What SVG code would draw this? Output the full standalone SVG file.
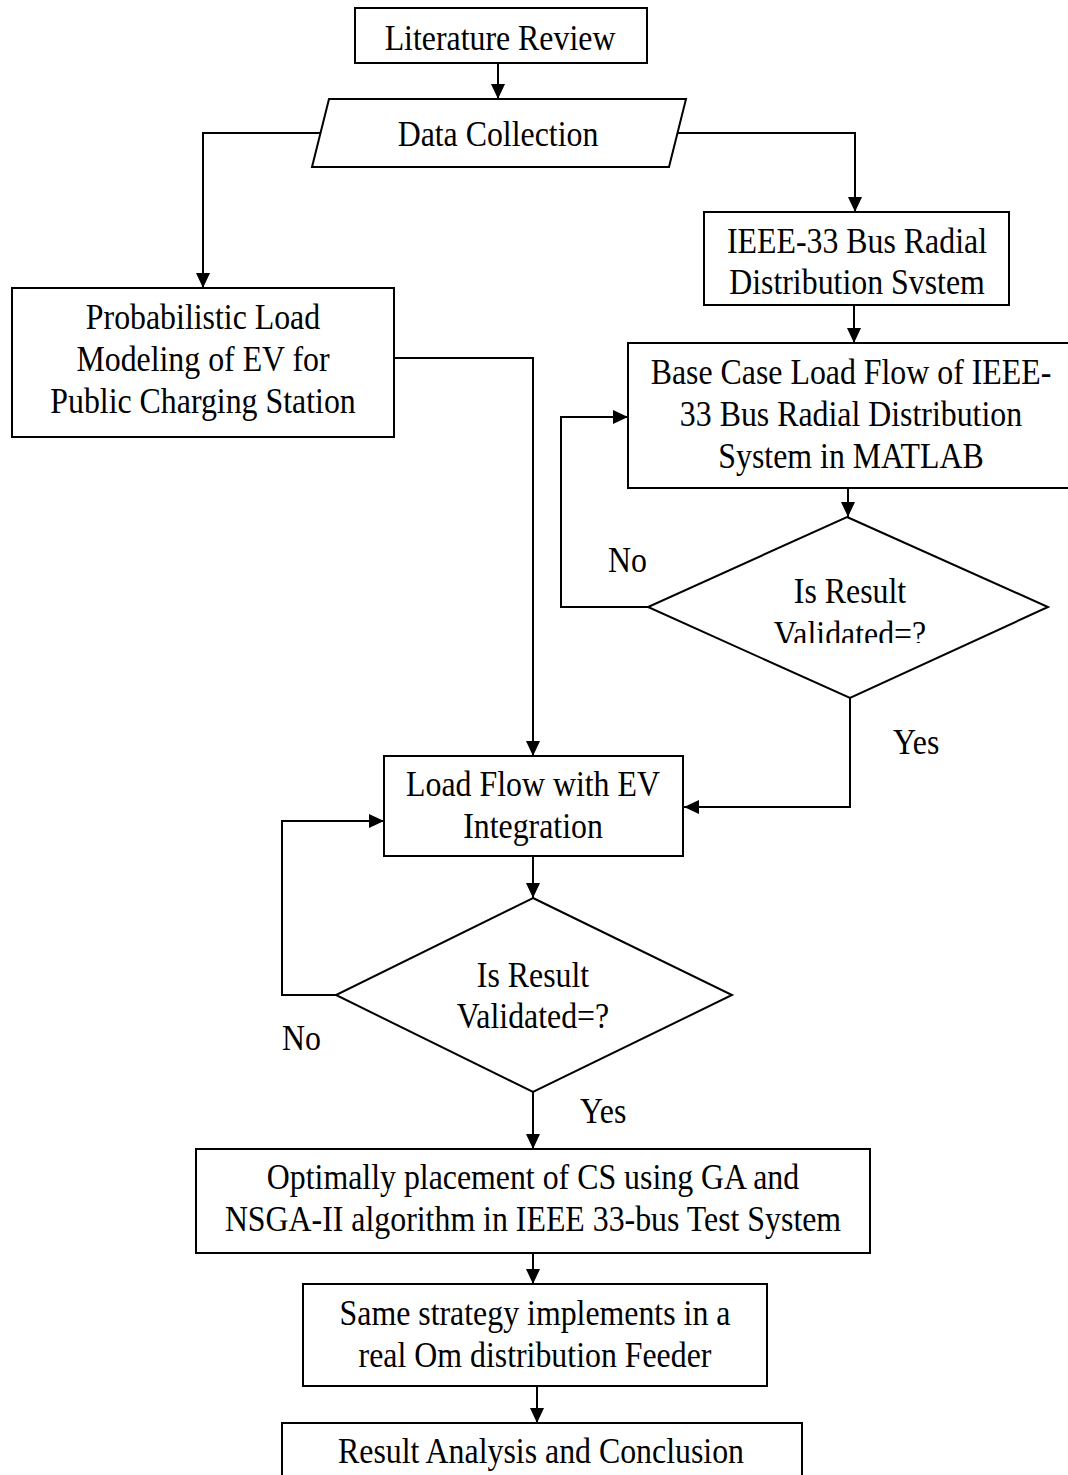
<svg xmlns="http://www.w3.org/2000/svg" width="1068" height="1475" viewBox="0 0 1068 1475">
  <style>
    .box { fill: #ffffff; stroke: #000000; stroke-width: 2; }
    .wire { fill: none; stroke: #000000; stroke-width: 2; }
    .lbl { font-family: "Liberation Serif", "Times New Roman", serif; font-size: 35px; fill: #000000; text-anchor: middle; }
    .tag { font-family: "Liberation Serif", "Times New Roman", serif; font-size: 35px; fill: #000000; }
  </style>
  <defs>
    <marker id="arrow" markerUnits="userSpaceOnUse" markerWidth="16" markerHeight="16" refX="15" refY="8" orient="auto">
      <path d="M0,1 L15,8 L0,15 z" fill="#000000"/>
    </marker>
    <clipPath id="clip-check1">
      <rect x="640" y="500" width="420" height="143"/>
    </clipPath>
  </defs>
  <rect width="1068" height="1475" fill="#ffffff"/>

  <!-- connectors -->
  <g id="connectors">
    <line class="wire" x1="498" y1="63" x2="498" y2="99" marker-end="url(#arrow)"/>
    <polyline class="wire" points="320,133 203,133 203,288" marker-end="url(#arrow)"/>
    <polyline class="wire" points="677,133 855,133 855,212" marker-end="url(#arrow)"/>
    <line class="wire" x1="854" y1="305" x2="854" y2="343" marker-end="url(#arrow)"/>
    <line class="wire" x1="848" y1="488" x2="848" y2="517" marker-end="url(#arrow)"/>
    <polyline class="wire" points="648,607 561,607 561,417 628,417" marker-end="url(#arrow)"/>
    <polyline class="wire" points="850,698 850,807 684,807" marker-end="url(#arrow)"/>
    <polyline class="wire" points="394,358 533,358 533,756" marker-end="url(#arrow)"/>
    <line class="wire" x1="533" y1="856" x2="533" y2="898" marker-end="url(#arrow)"/>
    <polyline class="wire" points="336,995 282,995 282,821 384,821" marker-end="url(#arrow)"/>
    <line class="wire" x1="533" y1="1092" x2="533" y2="1149" marker-end="url(#arrow)"/>
    <line class="wire" x1="533" y1="1253" x2="533" y2="1284" marker-end="url(#arrow)"/>
    <line class="wire" x1="537" y1="1386" x2="537" y2="1423" marker-end="url(#arrow)"/>
    <text class="tag" transform="translate(608 0) scale(0.91 1)" x="0" y="572">No</text>
    <text class="tag" transform="translate(893 0) scale(0.91 1)" x="0" y="754">Yes</text>
    <text class="tag" transform="translate(282 0) scale(0.91 1)" x="0" y="1050">No</text>
    <text class="tag" transform="translate(580 0) scale(0.91 1)" x="0" y="1123">Yes</text>
  </g>

  <g id="literature-review">
    <rect class="box" x="355" y="8" width="292" height="55"/>
    <text class="lbl" transform="translate(500 0) scale(0.91 1)" x="0" y="50">Literature Review</text>
  </g>

  <g id="data-collection">
    <polygon class="box" points="329,99 686,99 669,167 312,167"/>
    <text class="lbl" transform="translate(498 0) scale(0.91 1)" x="0" y="146">Data Collection</text>
  </g>

  <g id="ieee-33-bus">
    <rect class="box" x="704" y="212" width="305" height="93"/>
    <text class="lbl" transform="translate(857 0) scale(0.91 1)" x="0" y="253">IEEE-33 Bus Radial</text>
    <text class="lbl" transform="translate(857 0) scale(0.91 1)" x="0" y="294">Distribution Svstem</text>
  </g>

  <g id="probabilistic-load-model">
    <rect class="box" x="12" y="288" width="382" height="149"/>
    <text class="lbl" transform="translate(203 0) scale(0.91 1)" x="0" y="329">Probabilistic Load</text>
    <text class="lbl" transform="translate(203 0) scale(0.91 1)" x="0" y="371">Modeling of EV for</text>
    <text class="lbl" transform="translate(203 0) scale(0.91 1)" x="0" y="413">Public Charging Station</text>
  </g>

  <g id="base-case-load-flow">
    <rect class="box" x="628" y="343" width="460" height="145"/>
    <text class="lbl" transform="translate(851 0) scale(0.91 1)" x="0" y="384">Base Case Load Flow of IEEE-</text>
    <text class="lbl" transform="translate(851 0) scale(0.91 1)" x="0" y="426">33 Bus Radial Distribution</text>
    <text class="lbl" transform="translate(851 0) scale(0.91 1)" x="0" y="468">System in MATLAB</text>
  </g>

  <g id="check-base-case">
    <polygon class="box" points="847,517 1048,607 850,698 648,607"/>
    <text class="lbl" transform="translate(850 0) scale(0.91 1)" x="0" y="603">Is Result</text>
    <g clip-path="url(#clip-check1)">
      <text class="lbl" transform="translate(850 0) scale(0.91 1)" x="0" y="646">Validated=?</text>
    </g>
  </g>

  <g id="load-flow-ev">
    <rect class="box" x="384" y="756" width="299" height="100"/>
    <text class="lbl" transform="translate(533 0) scale(0.91 1)" x="0" y="796">Load Flow with EV</text>
    <text class="lbl" transform="translate(533 0) scale(0.91 1)" x="0" y="838">Integration</text>
  </g>

  <g id="check-ev">
    <polygon class="box" points="533,898 732,995 533,1092 336,995"/>
    <text class="lbl" transform="translate(533 0) scale(0.91 1)" x="0" y="987">Is Result</text>
    <text class="lbl" transform="translate(533 0) scale(0.91 1)" x="0" y="1028">Validated=?</text>
  </g>

  <g id="optimal-placement">
    <rect class="box" x="196" y="1149" width="674" height="104"/>
    <text class="lbl" transform="translate(533 0) scale(0.91 1)" x="0" y="1189">Optimally placement of CS using GA and</text>
    <text class="lbl" transform="translate(533 0) scale(0.91 1)" x="0" y="1231">NSGA-II algorithm in IEEE 33-bus Test System</text>
  </g>

  <g id="real-feeder">
    <rect class="box" x="303" y="1284" width="464" height="102"/>
    <text class="lbl" transform="translate(535 0) scale(0.91 1)" x="0" y="1325">Same strategy implements in a</text>
    <text class="lbl" transform="translate(535 0) scale(0.91 1)" x="0" y="1367">real Om distribution Feeder</text>
  </g>

  <g id="result-analysis">
    <rect class="box" x="282" y="1423" width="520" height="70"/>
    <text class="lbl" transform="translate(541 0) scale(0.91 1)" x="0" y="1463">Result Analysis and Conclusion</text>
  </g>
</svg>
